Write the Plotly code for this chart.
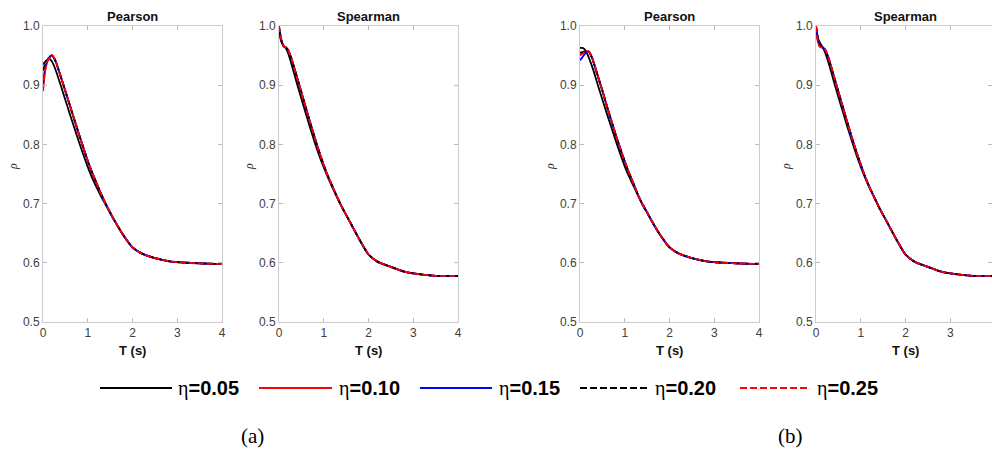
import plotly.graph_objects as go

# ---------------- data ----------------
T = [0, 0.05, 0.1, 0.15, 0.2, 0.25, 0.3, 0.4, 0.5, 0.6, 0.7, 0.8, 0.9, 1.0,
     1.1, 1.2, 1.3, 1.4, 1.5, 1.6, 1.8, 2.0, 2.2, 2.5, 2.8, 3.0, 3.5, 4.0]

eta_labels = ["0.05", "0.10", "0.15", "0.20", "0.25"]

# (a) Pearson
pa_005 = [0.935, 0.940, 0.943, 0.944, 0.940, 0.932, 0.922, 0.899, 0.875, 0.851, 0.828, 0.805, 0.783, 0.762,
          0.743, 0.727, 0.712, 0.698, 0.684, 0.671, 0.646, 0.626, 0.616, 0.608, 0.603, 0.601, 0.599, 0.598]
pa_010 = [0.890, 0.925, 0.940, 0.947, 0.951, 0.946, 0.937, 0.914, 0.890, 0.866, 0.842, 0.818, 0.795, 0.772,
          0.752, 0.734, 0.716, 0.700, 0.685, 0.671, 0.646, 0.626, 0.616, 0.608, 0.603, 0.601, 0.599, 0.598]
pa_015 = [0.900, 0.930, 0.942, 0.948, 0.950, 0.946, 0.937, 0.914, 0.890, 0.866, 0.842, 0.818, 0.795, 0.772,
          0.752, 0.734, 0.716, 0.700, 0.685, 0.671, 0.646, 0.626, 0.616, 0.608, 0.603, 0.601, 0.599, 0.598]
pa_020 = [0.925, 0.936, 0.943, 0.947, 0.949, 0.945, 0.936, 0.914, 0.890, 0.866, 0.842, 0.818, 0.795, 0.772,
          0.752, 0.734, 0.716, 0.700, 0.685, 0.671, 0.646, 0.626, 0.616, 0.608, 0.603, 0.601, 0.599, 0.598]
pa_025 = [0.893, 0.927, 0.941, 0.947, 0.951, 0.946, 0.937, 0.914, 0.890, 0.866, 0.842, 0.818, 0.795, 0.772,
          0.752, 0.734, 0.716, 0.700, 0.685, 0.671, 0.646, 0.626, 0.616, 0.608, 0.603, 0.601, 0.599, 0.598]

# (a) Spearman
sa_005 = [0.990, 0.974, 0.967, 0.963, 0.955, 0.943, 0.930, 0.903, 0.877, 0.852, 0.827, 0.803, 0.781, 0.761,
          0.743, 0.726, 0.710, 0.695, 0.681, 0.667, 0.639, 0.614, 0.602, 0.593, 0.585, 0.582, 0.578, 0.578]
sa_010 = [1.000, 0.978, 0.966, 0.964, 0.960, 0.951, 0.940, 0.914, 0.888, 0.862, 0.836, 0.811, 0.787, 0.765,
          0.745, 0.728, 0.711, 0.695, 0.681, 0.667, 0.639, 0.614, 0.602, 0.593, 0.585, 0.582, 0.578, 0.578]
sa_015 = [0.998, 0.977, 0.966, 0.964, 0.960, 0.951, 0.940, 0.914, 0.888, 0.862, 0.836, 0.811, 0.787, 0.765,
          0.745, 0.728, 0.711, 0.695, 0.681, 0.667, 0.639, 0.614, 0.602, 0.593, 0.585, 0.582, 0.578, 0.578]
sa_020 = [0.995, 0.976, 0.966, 0.963, 0.959, 0.950, 0.939, 0.914, 0.888, 0.862, 0.836, 0.811, 0.787, 0.765,
          0.745, 0.728, 0.711, 0.695, 0.681, 0.667, 0.639, 0.614, 0.602, 0.593, 0.585, 0.582, 0.578, 0.578]
sa_025 = [1.000, 0.978, 0.966, 0.964, 0.960, 0.951, 0.940, 0.914, 0.888, 0.862, 0.836, 0.811, 0.787, 0.765,
          0.745, 0.728, 0.711, 0.695, 0.681, 0.667, 0.639, 0.614, 0.602, 0.593, 0.585, 0.582, 0.578, 0.578]

# (b) Pearson
pb_005 = [0.963, 0.963, 0.961, 0.955, 0.946, 0.936, 0.925, 0.900, 0.876, 0.852, 0.829, 0.806, 0.784, 0.763,
          0.745, 0.729, 0.713, 0.698, 0.685, 0.671, 0.646, 0.626, 0.616, 0.608, 0.603, 0.601, 0.599, 0.598]
pb_010 = [0.952, 0.954, 0.956, 0.957, 0.957, 0.950, 0.940, 0.915, 0.891, 0.865, 0.840, 0.816, 0.793, 0.771,
          0.751, 0.733, 0.714, 0.698, 0.685, 0.671, 0.646, 0.626, 0.616, 0.608, 0.603, 0.601, 0.599, 0.598]
pb_015 = [0.942, 0.947, 0.952, 0.956, 0.957, 0.950, 0.940, 0.915, 0.891, 0.865, 0.840, 0.816, 0.793, 0.771,
          0.751, 0.733, 0.714, 0.698, 0.685, 0.671, 0.646, 0.626, 0.616, 0.608, 0.603, 0.601, 0.599, 0.598]
pb_020 = [0.955, 0.956, 0.957, 0.957, 0.956, 0.949, 0.939, 0.915, 0.891, 0.865, 0.840, 0.816, 0.793, 0.771,
          0.751, 0.733, 0.714, 0.698, 0.685, 0.671, 0.646, 0.626, 0.616, 0.608, 0.603, 0.601, 0.599, 0.598]
pb_025 = [0.950, 0.953, 0.956, 0.957, 0.957, 0.950, 0.940, 0.915, 0.891, 0.865, 0.840, 0.816, 0.793, 0.771,
          0.751, 0.733, 0.714, 0.698, 0.685, 0.671, 0.646, 0.626, 0.616, 0.608, 0.603, 0.601, 0.599, 0.598]

# (b) Spearman
sb_005 = [1.000, 0.978, 0.970, 0.964, 0.956, 0.945, 0.933, 0.906, 0.880, 0.855, 0.830, 0.806, 0.783, 0.762,
          0.743, 0.726, 0.711, 0.695, 0.681, 0.667, 0.639, 0.614, 0.602, 0.593, 0.585, 0.582, 0.578, 0.578]
sb_010 = [1.000, 0.972, 0.965, 0.964, 0.961, 0.953, 0.942, 0.915, 0.889, 0.863, 0.837, 0.812, 0.788, 0.766,
          0.745, 0.727, 0.711, 0.695, 0.681, 0.667, 0.639, 0.614, 0.602, 0.593, 0.585, 0.582, 0.578, 0.578]
sb_015 = [1.000, 0.974, 0.968, 0.964, 0.960, 0.952, 0.941, 0.915, 0.889, 0.863, 0.837, 0.812, 0.788, 0.766,
          0.745, 0.727, 0.711, 0.695, 0.681, 0.667, 0.639, 0.614, 0.602, 0.593, 0.585, 0.582, 0.578, 0.578]
sb_020 = [1.000, 0.976, 0.967, 0.963, 0.958, 0.950, 0.939, 0.915, 0.889, 0.863, 0.837, 0.812, 0.788, 0.766,
          0.745, 0.727, 0.711, 0.695, 0.681, 0.667, 0.639, 0.614, 0.602, 0.593, 0.585, 0.582, 0.578, 0.578]
sb_025 = [1.000, 0.970, 0.964, 0.964, 0.961, 0.953, 0.942, 0.915, 0.889, 0.863, 0.837, 0.812, 0.788, 0.766,
          0.745, 0.727, 0.711, 0.695, 0.681, 0.667, 0.639, 0.614, 0.602, 0.593, 0.585, 0.582, 0.578, 0.578]

panel_titles = ["Pearson", "Spearman", "Pearson", "Spearman"]
panel_series = [
    [pa_005, pa_010, pa_015, pa_020, pa_025],
    [sa_005, sa_010, sa_015, sa_020, sa_025],
    [pb_005, pb_010, pb_015, pb_020, pb_025],
    [sb_005, sb_010, sb_015, sb_020, sb_025],
]
x_ticks = [0, 1, 2, 3, 4]
y_ticks = [0.5, 0.6, 0.7, 0.8, 0.9, 1.0]
group_labels = ["(a)", "(b)"]

# ---------------- styling ----------------
W, H = 992, 450
colors = ["#000000", "#ff0000", "#0000ff", "#000000", "#ff0000"]
dashes = ["solid", "solid", "solid", "6px,3px", "6px,3px"]

# panel pixel boxes (left, right)
px_x = [(43, 222), (279, 458), (580, 759), (816, 992)]
x_ranges = [[0, 4], [0, 4], [0, 4], [0, 4 * 176 / 179]]
y_top, y_bot = 26, 322

def px(x):
    return x / W

def py(y):
    return 1 - y / H

fig = go.Figure()

for i, series in enumerate(panel_series):
    xa = "x" if i == 0 else f"x{i+1}"
    ya = "y" if i == 0 else f"y{i+1}"
    for k, vals in enumerate(series):
        fig.add_trace(go.Scatter(
            x=T, y=vals, mode="lines", xaxis=xa, yaxis=ya,
            line=dict(color=colors[k], width=1.8, dash=dashes[k], shape="spline", smoothing=0.6),
            showlegend=False, hoverinfo="skip"))

axis_common = dict(
    showline=True, linecolor="#cccccc", linewidth=1, mirror="ticks",
    ticks="inside", ticklen=4, tickcolor="#bbbbbb", showgrid=False, zeroline=False,
    automargin=False,
    tickfont=dict(family="Liberation Sans, Arial", size=12, color="#404040"),
)

layout = dict(width=W, height=H, margin=dict(l=0, r=0, t=0, b=0, autoexpand=False),
              paper_bgcolor="white", plot_bgcolor="white", showlegend=False)

annotations = []

def note(text, x, y, size, family="Liberation Sans, Arial", color="#111111", angle=0, xanchor="center"):
    annotations.append(dict(text=text, x=px(x), y=py(y), xref="paper", yref="paper",
                            xanchor=xanchor, yanchor="middle", showarrow=False, textangle=angle,
                            font=dict(family=family, size=size, color=color)))

for i in range(4):
    sx = "" if i == 0 else str(i + 1)
    l, r = px_x[i]
    layout[f"xaxis{sx}"] = dict(domain=[px(l), px(r)], range=x_ranges[i], tickvals=x_ticks,
                                anchor=f"y{sx}", **axis_common)
    layout[f"yaxis{sx}"] = dict(domain=[py(y_bot), py(y_top)], range=[0.5, 1.0], tickvals=y_ticks,
                                tickformat=".1f", anchor=f"x{sx}", **axis_common)
    cx = l + 179 / 2
    note(f"<b>{panel_titles[i]}</b>", cx, 16, 13)
    note("<b>T (s)</b>", cx, 350, 13)
    note("<i>ρ</i>", l - 30, 167, 12, family="Liberation Serif, Times New Roman", color="#333333", angle=-90)

# group labels
for lab, cx in zip(group_labels, [252, 790]):
    note(lab, cx, 436, 21, family="Liberation Serif, Times New Roman", color="#000000")

# custom legend (lines + labels)
leg_lines = [(100, 172), (259, 332), (420, 492), (580, 648), (740, 808)]
leg_text_x = [176, 337, 497, 653, 815]
leg_y = 388
shapes = []
for k in range(5):
    x0, x1 = leg_lines[k]
    shapes.append(dict(type="line", xref="paper", yref="paper", x0=px(x0), x1=px(x1), y0=py(leg_y), y1=py(leg_y),
                       line=dict(color=colors[k], width=2.2, dash=("solid" if k < 3 else "7px,3px"))))
    note(f"<span style='font-family:Liberation Serif'>η</span><b>={eta_labels[k]}</b>",
         leg_text_x[k], leg_y, 20, color="#000000", xanchor="left")

layout["annotations"] = annotations
layout["shapes"] = shapes
fig.update_layout(**layout)

fig.write_html("out.html", config={"displayModeBar": False, "staticPlot": True},
               post_script="document.body.style.margin='0px'; document.body.style.overflow='hidden';")
